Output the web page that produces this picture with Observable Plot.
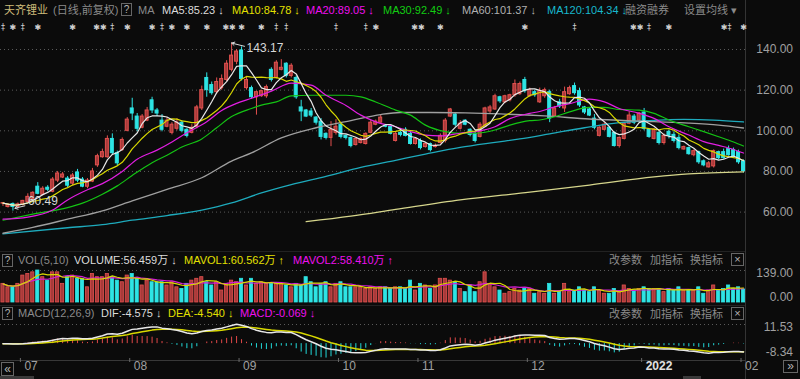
<!DOCTYPE html>
<html>
<head>
<meta charset="utf-8">
<script src="https://cdn.jsdelivr.net/npm/d3@7"></script>
<script src="https://cdn.jsdelivr.net/npm/@observablehq/plot@0.6"></script>
<style>
  html, body { margin:0; padding:0; background:#0b0b0b; }
  #root { position:relative; width:800px; height:379px; overflow:hidden; background:#0b0b0b;
    font-family:"Liberation Sans", Arial, "Noto Sans CJK SC", sans-serif; font-size:11px; }
  .t { position:absolute; white-space:nowrap; line-height:11px; font-size:11px; }
  .box { position:absolute; border:1px solid #666; color:#b4b4b4; font-size:10px; line-height:10px;
    text-align:center; box-sizing:border-box; }
  .panel { position:absolute; left:0; }
  .panel svg { display:block; }
  .hl { position:absolute; left:0; width:745px; height:1px; background:#222; }
  .g { color:#8a8a8a; }
</style>
</head>
<body>
<div id="root">
  <!-- header (price) -->
  <div class="t" style="left:4px;top:5px;color:#cdbb7a">天齐锂业</div>
  <div class="t g" style="left:53px;top:5px">(日线,前复权)</div>
  <div class="box" style="left:121px;top:3px;width:11px;height:13px;line-height:11px">?</div>
  <div class="t g" style="left:138px;top:5px">MA</div>
  <div class="t" style="left:162px;top:5px;color:#dcdcdc">MA5:85.23 ↓</div>
  <div class="t" style="left:232px;top:5px;color:#e4e000">MA10:84.78 ↓</div>
  <div class="t" style="left:306px;top:5px;color:#ee10ee">MA20:89.05 ↓</div>
  <div class="t" style="left:383px;top:5px;color:#12cc12">MA30:92.49 ↓</div>
  <div class="t" style="left:462px;top:5px;color:#b0b0b0">MA60:101.37 ↓</div>
  <div class="t" style="left:547px;top:5px;color:#18b8cc">MA120:104.34 ↓</div>
  <div class="t g" style="left:625px;top:5px">融资融券</div>
  <div class="t g" style="left:684px;top:5px">设置均线 ▾</div>

  <!-- header (volume) -->
  <div class="box" style="left:2px;top:254px;width:11px;height:13px;line-height:11px">?</div>
  <div class="t g" style="left:18px;top:255px">VOL(5,10)</div>
  <div class="t" style="left:74px;top:255px;color:#dcdcdc">VOLUME:56.459万 ↓</div>
  <div class="t" style="left:184px;top:255px;color:#e4e000">MAVOL1:60.562万 ↑</div>
  <div class="t" style="left:293px;top:255px;color:#ee10ee">MAVOL2:58.410万 ↑</div>
  <div class="t g" style="left:609px;top:255px">改参数</div>
  <div class="t g" style="left:650px;top:255px">加指标</div>
  <div class="t g" style="left:690px;top:255px">换指标</div>
  <div class="box" style="left:731px;top:253px;width:13px;height:13px;line-height:11px;font-size:11px">×</div>

  <!-- header (macd) -->
  <div class="box" style="left:2px;top:307px;width:11px;height:13px;line-height:11px">?</div>
  <div class="t g" style="left:18px;top:308px">MACD(12,26,9)</div>
  <div class="t" style="left:101px;top:308px;color:#dcdcdc">DIF:-4.575 ↓</div>
  <div class="t" style="left:168px;top:308px;color:#e4e000">DEA:-4.540 ↓</div>
  <div class="t" style="left:240px;top:308px;color:#ee10ee">MACD:-0.069 ↓</div>
  <div class="t g" style="left:609px;top:309px">改参数</div>
  <div class="t g" style="left:650px;top:309px">加指标</div>
  <div class="t g" style="left:690px;top:309px">换指标</div>
  <div class="box" style="left:731px;top:307px;width:13px;height:13px;line-height:11px;font-size:11px">×</div>

  <div class="hl" style="top:251px"></div>
  <div class="hl" style="top:305px"></div>
  <div class="hl" style="top:360px;background:#383838"></div>
  <div style="position:absolute;left:745px;top:0;width:1px;height:379px;background:#343434"></div>

  <div id="pricePanel" class="panel" style="top:18px"></div>
  <div id="volPanel" class="panel" style="top:264px"></div>
  <div id="macdPanel" class="panel" style="top:318px"></div>

  <div class="box" style="left:1px;top:362px;width:13px;height:14px;line-height:12px;font-size:12px">«</div>
  <div class="box" style="left:783px;top:360px;width:15px;height:13px;line-height:11px;font-size:12px">»</div>
  <div style="position:absolute;left:0;top:376px;width:34px;height:3px;background:#3a3a3a"></div>
  <div style="position:absolute;left:683px;top:376px;width:18px;height:3px;background:#3a3a3a"></div>
</div>

<script>
// ---------------- DATA ----------------
const opens = [64.2,62.5,64,62.5,63.5,65,66.5,72.5,68.5,72,
  70,75.5,77,76.5,74,79.5,76,72.5,75,83,
  87,87,96,89,90.5,100,111,107,101.5,105,
  115,110,105,102,99,101,104,100.5,99,102,
  111,126,122.5,119,121,125,130,134,139.5,121,
  121,116.5,117,117,130,126,130,133,127,126,
  111.5,110,109.5,106.5,104.5,98.5,96.5,99,103,97.5,
  96.5,93,94,93.5,99,103,104,102.5,102,95,
  99,100.5,98.5,93.5,95,92,93.5,92,94,95,
  107,108,101,105,100.5,98.5,97,102,109.5,110.5,
  116.5,114,115,117.5,118,125,117,119,114,117,
  119,107,114,111,118,122,119.5,111.5,110.5,106,
  97.5,100.5,101.5,99,92.5,96,103.5,107,105,109,
  100.5,96,99,94,99.5,98,96.5,90.8,91.5,88,
  89.5,85,82,82.5,89.5,89.5,91,90.5,89.5,85];
const highs = [64.6,64,64.5,64.5,65.8,69,70,74.5,72.5,73,
  77,80,79.5,77.5,79,81,77,76.5,81.5,88.5,
  91,97.5,98.5,90,96.5,106.5,116,108.5,108,111.5,
  116.5,111,108,106.5,104,106,105,101,103,112.5,
  122,128.5,124,126,127.5,134.5,143.17,140,141.3,126.5,
  122,119.5,120,122.5,131,134.5,135,133.5,133,127,
  115,110.5,111,107,106,99,104.5,105.5,104,98,
  97,96.5,96.5,99,105,105.3,107.7,103,103,99.5,
  100,101.5,99.5,96.5,96,94,94,93.5,98.5,106,
  111,108.7,105,105.5,101,99.5,104,111.6,112.5,118,
  117,117.5,118,125,124,126.3,121,120,121,121,
  120,112,115.5,121.5,122,123.5,121,112,111,108,
  102,104,102,99.5,97,104,109.3,108,109,111,
  101,101,99.6,98.5,100.4,99.5,98,92.5,92,90.6,
  90,85.7,84.9,90.6,90,91,92.5,91.5,90.5,85.7];
const lows = [62.8,62,60.49,62,63,64.5,66,68.5,68,70,
  69.5,74.5,76.5,72,73,74.5,72,71.5,74.5,82,
  86.5,86.5,88,82.5,90,99.5,105,99.5,101,104.5,
  108.5,107,99.5,101.5,98,100,99,96.5,98.5,101,
  110,116.5,117.5,118,120,124,129,132.5,124.5,120,
  115.5,107.7,116.5,116,124,125.5,129.5,126,126,115.5,
  104.5,106.5,106.5,102.8,95.5,95.5,92.2,97.9,96,95.5,
  91.6,92.5,93.5,93,98.5,102.5,103.8,101.5,98,94.5,
  97,97,93,93,90.6,91.5,89.6,91.5,93.5,94,
  106.5,101.9,100.4,102.5,97,94,96.5,101.9,108.5,110,
  113.5,113.4,114.2,116.5,117.5,118.5,116.5,116.5,113.5,116,
  104,106.5,111,109,117.5,117.5,111.5,108,107,100.5,
  97,100,96.5,92,91.5,95.5,103,103,104.5,100,
  96.3,95.5,93,93,96,94,90.6,90.5,88,87.2,
  83.5,82.3,81.7,81.7,85.7,86,87.5,86.5,83.5,79.2];
const closes = [64.4,63.5,62.5,63.8,65.5,67.5,69.5,69,71.5,71,
  76,79,78.5,73,78,75.5,72.5,75.5,80,87.5,
  89.5,96,89,84,95.5,105.5,108.5,101,107,110,
  110,108.5,100.5,105,103,104,100,97.5,101.5,111.5,
  120,120,118.5,124,125.5,133,137,139,125.5,125,
  116.5,119,119.5,121.5,125,133.5,131,127,132,116.5,
  109.5,107,107.5,104,97,96.5,100.5,102,97,96.5,
  92.5,96,96,98.5,104,104.5,106.5,102,98.5,98.5,
  98,97.5,93.5,96,91.5,93.5,90.5,92.5,97.5,105,
  110.5,103,103.5,103,98,95,103,111,111.5,117,
  114.5,117,117.5,123,123,119.5,120,117.5,119.5,120,
  106,111,112,119,121,118.5,112.5,109,107.5,101.5,
  101.5,103,97,92.5,96.5,103.5,107.5,104,108.5,101,
  97,100.5,94,97.5,97.5,95,91.5,92,88.5,90,
  84.5,83,84,90,86.5,86.5,88,87,84.5,80.2];
// volume, in 万手
const volumes = [81,66,66,81,117,124,131,139,110,95,
  131,131,81,110,117,103,103,66,124,110,
  110,124,110,95,88,117,124,103,74,95,
  88,88,88,74,88,66,59,81,95,103,
  110,88,74,88,52,81,95,88,103,74,
  103,81,88,81,81,81,81,74,66,81,
  74,110,88,66,81,88,66,81,88,66,
  66,66,66,59,66,59,66,66,59,66,
  66,59,95,52,81,74,59,74,103,103,
  95,88,59,45,74,45,88,131,81,66,
  52,38,45,59,52,59,59,38,45,38,
  81,38,45,81,45,52,66,52,45,66,
  52,38,38,59,45,74,59,52,59,66,
  59,59,59,45,59,52,66,52,52,52,
  66,38,52,74,52,59,74,59,66,56.459];

// moving averages: [candle index, value]
const ma20 = [[0,56.5],[5,57.5],[10,61],[13,66],[17,71],[20,74],[24,80],[27,86],[31,90.5],[34,94.5],[37,99],[41,104.5],[44,110],[47,113.5],[50,116],[54,119.5],[58,123.5],[62,122.5],[65,117.5],[69,112.5],[72,107.7],[75,104.4],[79,102],[82,99.6],[85,97.9],[88,97.5],[92,98.8],[95,99.6],[99,102],[102,106],[106,108.6],[108,109.5],[111,111.8],[114,113.4],[118,115.6],[121,114.2],[124,111],[128,108.6],[131,106.1],[134,102],[138,97.9],[141,94.7],[144,92.8],[147,90.8],[149,89.05]];
const ma30 = [[0,56],[6,59],[13,62.2],[16,64.4],[20,68.8],[23,72.9],[26,78],[30,84.3],[33,88],[36,92],[40,96],[43,101.5],[46,107],[50,111],[52,112.6],[55,114.2],[58,117.2],[62,117.5],[69,117.5],[72,116.7],[75,114.2],[79,110.2],[82,107.7],[85,102.8],[89,99.6],[92,98.8],[95,98.8],[99,100.4],[102,102.8],[106,105],[108,105.3],[111,106.9],[114,109.3],[118,111.5],[121,111.5],[124,110.5],[128,110.2],[131,108.6],[134,105.3],[138,102],[141,99.6],[144,97.1],[147,94.5],[149,92.49]];
const ma60 = [[0,49.6],[6,52.5],[13,56.5],[20,60.6],[26,65.5],[33,71.2],[40,76.9],[46,85.1],[50,89.1],[56,96.5],[63,101.5],[70,105],[76,108],[80,109],[86,109],[93,108.8],[100,108.3],[109,107.3],[118,105.8],[131,104.5],[138,103.8],[144,102.8],[149,101.37]];
const ma120 = [[0,49.3],[13,52.3],[20,53.8],[26,56],[33,58.3],[40,61],[46,64.5],[52,69.4],[58,73.5],[65,77.6],[72,82],[79,85.5],[85,88.5],[92,91.8],[99,94.3],[104,96],[110,98.5],[117,101.5],[124,104],[130,105],[137,105.6],[143,105.3],[149,104.34]];
const ma250 = [[61,55.3],[70,58],[79,61.3],[92,66],[106,69.8],[118,73.3],[131,77.3],[138,78.8],[149,79.8]];

// axis tick labels
const monthTicks = [{i:4,label:"07"},{i:26,label:"08"},{i:48,label:"09"},{i:68,label:"10"},
  {i:84,label:"11"},{i:106,label:"12"},{i:129,label:"2022"},{i:149,label:"02"}];
const priceTicks = [60, 80, 100, 120, 140];
const volTop = 139, volBottom = 0;
const macdTop = 11.53, macdBottom = -8.34;

// info markers along the top of the price panel (s = asterisk, d = dagger)
const markers = [[0,"d"],[2,"s"],[4,"d"],[7,"s"],[14,"s"],[19,"s"],[20,"s"],[22,"d"],[25,"s"],
  [30,"s"],[32,"d"],[34,"s"],[37,"s"],[41,"s"],[45,"s"],[46,"s"],[48,"s"],[52,"s"],[55,"d"],
  [57,"d"],[67,"d"],[73,"d"],[75,"s"],[83,"s"],[84,"s"],[88,"s"],[105,"s"],[115,"d"],
  [127,"s"],[128,"s"],[130,"d"],[134,"s"],[145,"s"],[146,"d"],[149,"s"]];

// ---------------- RENDER ----------------
const N = closes.length;
const candles = closes.map((c, i) => ({i, o: opens[i], h: highs[i], l: lows[i], c, v: volumes[i], up: c >= opens[i]}));
const UP = "#e4514f", UPFILL = "#a83a3a", DN = "#2ee4e4";
const font = '"Liberation Sans", Arial, sans-serif';
const baseStyle = {background: "transparent", color: "#a0a0a0", fontFamily: font, fontSize: "12px", overflow: "visible"};
const xs = {domain: [-0.5, N - 0.5], axis: null, label: null};
const W = 800, MR = 54.5;
const pts = arr => arr.map(([i, v]) => ({i, v}));
const lab = d => d.toFixed(2);

// group markers on adjacent candles into one text run
const markerRuns = [];
for (const [i, k] of markers) {
  const g = k === "s" ? "✱" : "‡";
  const last = markerRuns[markerRuns.length - 1];
  if (last && i === last.end + 1) { last.end = i; last.text += g; }
  else markerRuns.push({start: i, end: i, text: g});
}

// MACD(12,26,9) from closes
let e12 = closes[0], e26 = closes[0], dea = 0;
const macd = closes.map((c, i) => {
  if (i > 0) { e12 = e12 * 11 / 13 + c * 2 / 13; e26 = e26 * 25 / 27 + c * 2 / 27; }
  const dif = e12 - e26;
  dea = i === 0 ? dif : dea * 0.8 + dif * 0.2;
  return {i, dif, dea, m: 2 * (dif - dea)};
});

const maxC = candles.reduce((a, b) => b.h > a.h ? b : a);
const minC = candles.reduce((a, b) => b.l < a.l ? b : a);
const lineOpt = (stroke, w = 1) => ({x: "i", y: "v", stroke, strokeWidth: w, curve: "monotone-x"});
const rightLabels = (ticks, dy) => Plot.axisY(ticks, {anchor: "right", tickSize: 0, tickPadding: 0,
  textAnchor: "end", dx: 47, dy, tickFormat: lab, fill: "#a0a0a0", fontSize: 12, label: null});

const price = Plot.plot({
  width: W, height: 232, marginLeft: 0, marginRight: MR, marginTop: 12, marginBottom: 2,
  style: baseStyle,
  x: xs,
  y: {domain: [60, 140], range: [193.6, 31], axis: null, label: null},
  marks: [
    Plot.gridY(priceTicks, {stroke: "#5a5a5a", strokeOpacity: 1, strokeDasharray: "1,3"}),
    rightLabels(priceTicks, 0),
    Plot.ruleX(candles, {x: "i", y1: "l", y2: "h", stroke: d => d.up ? UP : DN, strokeWidth: 1}),
    Plot.rect(candles, {x1: d => d.i - 0.3, x2: d => d.i + 0.3,
      y1: d => Math.min(d.o, d.c), y2: d => Math.max(d.o, d.c),
      fill: d => d.up ? UPFILL : DN, stroke: d => d.up ? UP : DN, strokeWidth: 1}),
    Plot.line(pts(ma250), lineOpt("#d6d68c", 1.3)),
    Plot.line(pts(ma120), lineOpt("#1eabbd", 1.3)),
    Plot.line(pts(ma60), lineOpt("#a0a0a0", 1.3)),
    Plot.line(pts(ma30), lineOpt("#14c414", 1.2)),
    Plot.line(pts(ma20), lineOpt("#e21ee2", 1.2)),
    Plot.line(candles, Plot.windowY({k: 10, anchor: "end"}, {x: "i", y: "c", stroke: "#d8d800", strokeWidth: 1.2})),
    Plot.line(candles, Plot.windowY({k: 5, anchor: "end"}, {x: "i", y: "c", stroke: "#e8e8e8", strokeWidth: 1.2})),
    Plot.text(markerRuns, {x: d => (d.start + d.end) / 2, text: "text", frameAnchor: "top", dy: -6,
      fill: "#d0d0d0", fontSize: 8, fontFamily: "DejaVu Sans", letterSpacing: "-0.6px"}),
    Plot.arrow([maxC], {x1: d => d.i + 2.6, y1: d => d.h - 1.6, x2: "i", y2: "h", stroke: "#d8d8d8",
      strokeWidth: 1, headLength: 5}),
    Plot.text([maxC], {x: "i", y: "h", text: d => lab(d.h), dx: 15, dy: 5, textAnchor: "start",
      fill: "#d8d8d8", fontSize: 12}),
    Plot.arrow([minC], {x1: d => d.i + 2.4, y1: d => d.l + 2.6, x2: d => d.i + 0.4, y2: d => d.l + 1.4,
      stroke: "#d8d8d8", strokeWidth: 1, headLength: 5}),
    Plot.text([minC], {x: "i", y: "l", text: d => lab(d.l), dx: 15, dy: -10, textAnchor: "start",
      fill: "#d8d8d8", fontSize: 12})
  ]
});
document.getElementById("pricePanel").appendChild(price);

const vol = Plot.plot({
  width: W, height: 41, marginLeft: 0, marginRight: MR, marginTop: 6, marginBottom: 3,
  style: baseStyle,
  x: xs,
  y: {domain: [volBottom, volTop], range: [38, 6], axis: null, label: null},
  marks: [
    Plot.gridY([volTop], {stroke: "#5a5a5a", strokeOpacity: 1, strokeDasharray: "1,3"}),
    Plot.rect(candles, {x1: d => d.i - 0.32, x2: d => d.i + 0.32, y1: 0, y2: "v",
      fill: d => d.up ? UPFILL : DN, stroke: d => d.up ? UP : DN, strokeWidth: 0.8}),
    Plot.line(candles, Plot.windowY({k: 10, anchor: "end"}, {x: "i", y: "v", stroke: "#d21ed2", strokeWidth: 1.2})),
    Plot.line(candles, Plot.windowY({k: 5, anchor: "end"}, {x: "i", y: "v", stroke: "#d8d800", strokeWidth: 1.2})),
    rightLabels([volTop], 3),
    rightLabels([volBottom], -5)
  ]
});
document.getElementById("volPanel").appendChild(vol);

const md = Plot.plot({
  width: W, height: 61, marginLeft: 0, marginRight: MR, marginTop: 2, marginBottom: 21,
  style: baseStyle,
  x: xs,
  y: {domain: [macdBottom, macdTop], range: [39, 6], axis: null, label: null},
  marks: [
    Plot.gridY([macdTop], {stroke: "#5a5a5a", strokeOpacity: 1, strokeDasharray: "1,3"}),
    Plot.ruleX(macd, {x: "i", y1: 0, y2: "m", stroke: d => d.m >= 0 ? "#e04848" : "#22d8d8", strokeWidth: 1}),
    Plot.line(macd, {x: "i", y: "dea", stroke: "#d8d800", strokeWidth: 1.5}),
    Plot.line(macd, {x: "i", y: "dif", stroke: "#e8e8e8", strokeWidth: 1.5}),
    rightLabels([macdTop], 3),
    rightLabels([macdBottom], -5),
    Plot.axisX(monthTicks.map(d => d.i - 0.5), {anchor: "bottom", tickSize: 4, tickFormat: () => "",
      stroke: "#6a6a6a", label: null}),
    Plot.text(monthTicks.filter(d => d.label !== "2022"), {x: d => d.i - 0.5, text: "label", frameAnchor: "bottom",
      dy: 11, dx: 4, textAnchor: "start", fill: "#a0a0a0", fontSize: 12}),
    Plot.text(monthTicks.filter(d => d.label === "2022"), {x: d => d.i - 0.5, text: "label", frameAnchor: "bottom",
      dy: 11, dx: 4, textAnchor: "start", fill: "#e0e0e0", fontSize: 12, fontWeight: "bold"})
  ]
});
document.getElementById("macdPanel").appendChild(md);
</script>
</body>
</html>
